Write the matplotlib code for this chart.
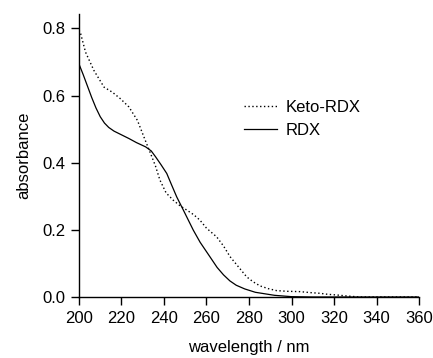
import matplotlib
matplotlib.use("Agg")
import matplotlib.pyplot as plt

plt.rcParams["font.family"] = ["Liberation Sans", "DejaVu Sans"]

# RDX (solid)
rdx_nm = [200, 202, 204, 206, 208, 210, 212, 214, 216.5, 220, 223.5, 227,
          231.4, 234, 236.1, 238.5, 241.3, 243.5, 246, 249.1, 253.8, 257,
          261.6, 265, 268, 271, 274, 278, 283, 288, 292, 296, 300, 310, 360]
rdx_abs = [0.694, 0.662, 0.628, 0.594, 0.563, 0.537, 0.518, 0.505, 0.494,
           0.483, 0.472, 0.46, 0.447, 0.435, 0.417, 0.395, 0.368, 0.335,
           0.298, 0.259, 0.199, 0.163, 0.12, 0.088, 0.066, 0.048, 0.035,
           0.024, 0.014, 0.009, 0.005, 0.003, 0.001, 0.0, 0.0]

# Keto-RDX (dotted)
keto_nm = [200, 200.8, 203.1, 207, 211.8, 215.7, 219.6, 223.5, 227.5, 230.6,
           233.7, 236, 238.1, 241, 244.4, 247.5, 250.7, 254, 256.9, 260,
           264.8, 268, 271.1, 275, 278.9, 282, 285.2, 289, 293, 298, 304,
           309, 313.4, 317, 321.3, 326, 332, 360]
keto_abs = [0.795, 0.784, 0.729, 0.675, 0.625, 0.61, 0.59, 0.566, 0.526,
            0.476, 0.427, 0.39, 0.348, 0.31, 0.288, 0.272, 0.259, 0.245,
            0.229, 0.205, 0.179, 0.152, 0.12, 0.09, 0.06, 0.045, 0.033,
            0.025, 0.019, 0.017, 0.016, 0.013, 0.011, 0.008, 0.006, 0.003,
            0.0, 0.0]

xticks = [200, 220, 240, 260, 280, 300, 320, 340, 360]
yticks = [0.0, 0.2, 0.4, 0.6, 0.8]

fig = plt.figure(figsize=(4.33, 3.58), dpi=100)
ax = fig.add_axes([0.1824, 0.1704, 0.7853, 0.7906])

ax.plot(keto_nm, keto_abs, color="black", lw=1.0, linestyle=(0, (1, 1.8)), label="Keto-RDX")
ax.plot(rdx_nm, rdx_abs, color="black", lw=0.9, label="RDX")

ax.set_xlim(200, 360)
ax.set_ylim(0, 0.843)
ax.set_xticks(xticks)
ax.set_yticks(yticks)
ax.set_yticklabels([f"{v:.1f}" for v in yticks])
for s in ["top", "right"]:
    ax.spines[s].set_visible(False)
for s in ["left", "bottom"]:
    ax.spines[s].set_linewidth(1.0)
ax.tick_params(direction="out", length=6, width=1.0, labelsize=12, pad=4)

ax.set_xlabel("wavelength / nm", fontsize=12, labelpad=10)
ax.set_ylabel("absorbance", fontsize=12, labelpad=8)

ax.legend(loc="upper left", bbox_to_anchor=(0.44, 0.75), frameon=False,
          fontsize=12, handlelength=2.0, handletextpad=0.5, labelspacing=0.5)

fig.savefig("out.png", dpi=100)
